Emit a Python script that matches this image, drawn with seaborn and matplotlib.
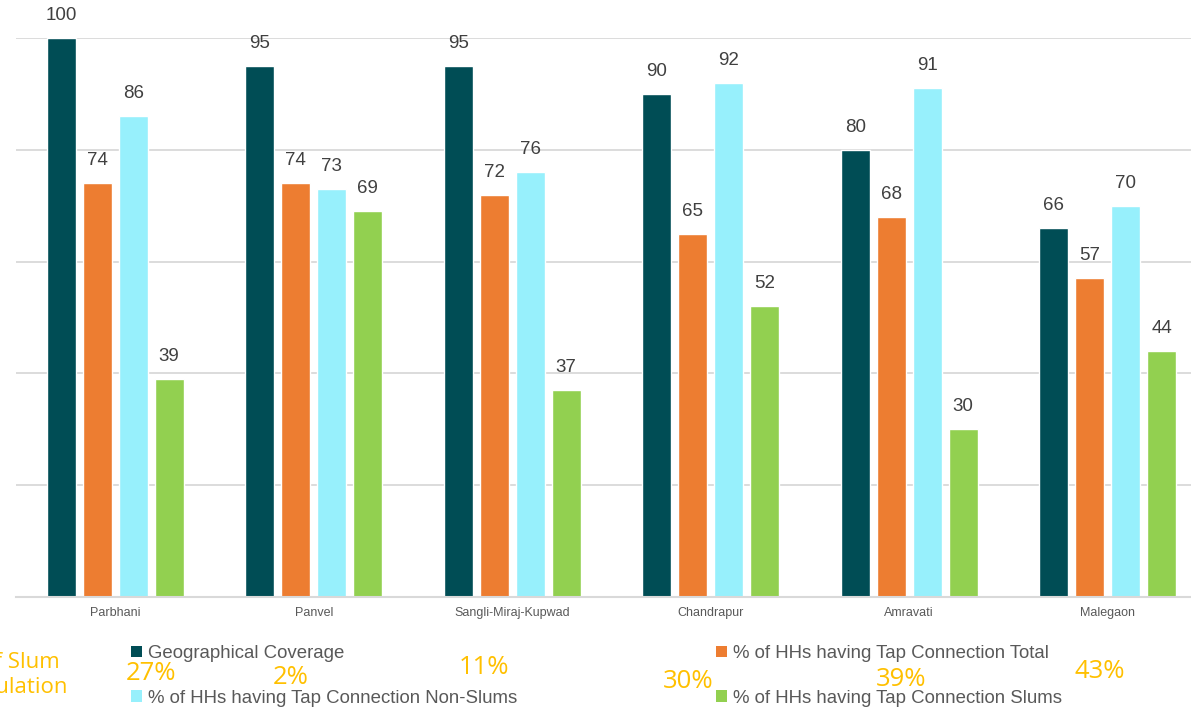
import matplotlib
matplotlib.use("Agg")
import matplotlib.pyplot as plt
from matplotlib.patches import Patch
import seaborn as sns
import pandas as pd

cities = ["Parbhani", "Panvel", "Sangli-Miraj-Kupwad", "Chandrapur", "Amravati", "Malegaon"]
series = [
    "Geographical Coverage",
    "% of HHs having Tap Connection Total",
    "% of HHs having Tap Connection Non-Slums",
    "% of HHs having Tap Connection Slums",
]
geo_coverage = [100, 95, 95, 90, 80, 66]
tap_total = [74, 74, 72, 65, 68, 57]
tap_non_slums = [86, 73, 76, 92, 91, 70]
tap_slums = [39, 69, 37, 52, 30, 44]
slum_population = ["27%", "2%", "11%", "30%", "39%", "43%"]

colors = ["#004D55", "#ED7D31", "#97F0FC", "#92D050"]

sns.set_theme(style="white")
plt.rcParams["font.family"] = ["Liberation Sans", "DejaVu Sans"]

rows = []
for name, vals in zip(series, [geo_coverage, tap_total, tap_non_slums, tap_slums]):
    for c, v in zip(cities, vals):
        rows.append({"city": c, "series": name, "value": v})
df = pd.DataFrame(rows)

W, H = 1191, 711
fig = plt.figure(figsize=(W / 100, H / 100), dpi=100)
ax = fig.add_axes([16 / W, 1 - 597 / H, 1191 / W, (597 - 38) / H])

sns.barplot(data=df, x="city", y="value", hue="series", order=cities,
            hue_order=series, palette=colors, width=0.725, gap=0.2,
            saturation=1, legend=False, ax=ax, errorbar=None)

for cont in ax.containers:
    ax.bar_label(cont, fmt="%d", padding=10, fontsize=13.5, color="#404040",
                 clip_on=False)

ax.set_xlim(-0.5, 5.5)
ax.set_ylim(0, 100)
ax.set_yticks([0, 20, 40, 60, 80, 100])
ax.set_yticklabels([])
ax.yaxis.grid(True, color="#D9D9D9", linewidth=1.3)
ax.set_axisbelow(True)
ax.tick_params(axis="both", length=0)
ax.tick_params(axis="x", labelsize=9, labelcolor="#595959", pad=7)
ax.set_xlabel("")
ax.set_ylabel("")
for s in ["top", "right", "left"]:
    ax.spines[s].set_visible(False)
ax.spines["bottom"].set_color("#D9D9D9")
ax.spines["bottom"].set_linewidth(1.5)

# Legend: two rows, two columns
handles = [Patch(facecolor=colors[i], edgecolor="none") for i in range(4)]
order = [0, 2, 1, 3]
fig.legend([handles[i] for i in order], [series[i] for i in order],
           ncol=2, mode="expand", frameon=False, fontsize=13.4,
           labelcolor="#595959", handlelength=0.6, handleheight=0.6,
           handletextpad=0.3, borderpad=0, borderaxespad=0, labelspacing=1.5,
           bbox_to_anchor=(131 / W, 1 - 715 / H, (1062 - 131) / W, 70 / H),
           loc="upper left")

# Slum population shares
gold = "#FFC000"
txt_font = ["Open Sans", "DejaVu Sans"]
fig.text(60 / W, 1 - 663 / H, "% of Slum", color=gold, fontsize=16,
         family=txt_font, ha="right", va="center")
fig.text(68 / W, 1 - 688 / H, "Population", color=gold, fontsize=16,
         family=txt_font, ha="right", va="center")
pct_pos = [(151, 674), (291, 678), (484, 668), (688, 682), (901, 680), (1100, 671)]
for label, (px, py) in zip(slum_population, pct_pos):
    fig.text(px / W, 1 - py / H, label, color=gold, fontsize=18.5,
             family=txt_font, ha="center", va="center")

fig.savefig("out.png", dpi=100)
